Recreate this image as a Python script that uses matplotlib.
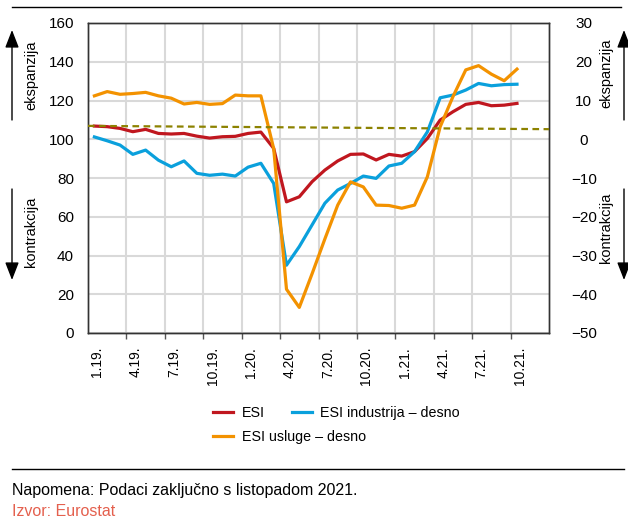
import matplotlib
matplotlib.use("Agg")
import matplotlib.pyplot as plt
from matplotlib.lines import Line2D
import matplotlib.transforms as mtransforms
import numpy as np

plt.rcParams['font.family'] = ['Liberation Sans', 'DejaVu Sans']

# ---- data ----
months = ["1.19.", "2.19.", "3.19.", "4.19.", "5.19.", "6.19.", "7.19.", "8.19.", "9.19.",
          "10.19.", "11.19.", "12.19.", "1.20.", "2.20.", "3.20.", "4.20.", "5.20.", "6.20.",
          "7.20.", "8.20.", "9.20.", "10.20.", "11.20.", "12.20.", "1.21.", "2.21.", "3.21.",
          "4.21.", "5.21.", "6.21.", "7.21.", "8.21.", "9.21.", "10.21."]
axis_months = months + ["11.21.", "12.21."]
tick_labels = ["1.19.", "4.19.", "7.19.", "10.19.", "1.20.", "4.20.", "7.20.", "10.20.",
               "1.21.", "4.21.", "7.21.", "10.21."]

esi = [106.8, 106.5, 105.6, 103.9, 105.1, 103.0, 102.7, 103.0, 101.6, 100.6, 101.3, 101.5,
       103.0, 103.7, 95.3, 67.7, 70.3, 78.1, 84.1, 88.8, 92.2, 92.4, 89.3, 92.2, 91.3, 93.6,
       100.4, 109.9, 114.2, 118.0, 119.0, 117.3, 117.6, 118.5]
esi_industry = [0.6, -0.4, -1.5, -3.9, -2.8, -5.4, -7.1, -5.6, -8.8, -9.3, -9.0, -9.5,
                -7.2, -6.2, -11.4, -32.5, -27.7, -22.1, -16.5, -13.1, -11.4, -9.5, -10.1,
                -6.9, -6.2, -3.2, 1.9, 10.7, 11.4, 12.7, 14.4, 13.8, 14.1, 14.2]
esi_services = [11.2, 12.3, 11.6, 11.8, 12.1, 11.2, 10.6, 9.1, 9.5, 9.0, 9.2, 11.4,
                11.2, 11.2, -2.4, -38.7, -43.4, -34.7, -25.7, -17.0, -11.0, -12.3, -17.0,
                -17.1, -17.8, -17.0, -9.7, 3.2, 11.0, 17.9, 19.0, 16.8, 15.1, 18.1]
trend_x = [-0.5, len(axis_months) - 0.5]
trend_esi = [106.9, 105.2]

# ---- figure ----
W, H = 628, 523
fig = plt.figure(figsize=(W / 100, H / 100), dpi=100)

def fx(px):
    return px / W

def fy(py):
    return 1 - py / H

L, R, T, B = 88, 549, 23, 333
ax = fig.add_axes([fx(L), fy(B), fx(R) - fx(L), fy(T) - fy(B)])
ax2 = ax.twinx()

x = np.arange(len(months))
red = "#c0171f"
blue = "#0aa0dc"
orange = "#f39200"
olive = "#8c8200"

ax.set_xlim(-0.5, len(axis_months) - 0.5)
ax.set_ylim(0, 160)
ax2.set_ylim(-50, 30)

# grid
ax.set_yticks(np.arange(0, 161, 20))
ax2.set_yticks(np.arange(-50, 31, 10))
boundaries = np.arange(2.5, len(axis_months) - 0.5, 3)
ax.set_xticks(boundaries, minor=True)
tick_pos = [months.index(t) for t in tick_labels]
ax.set_xticks(tick_pos)
ax.set_xticklabels(tick_labels, rotation=90, fontsize=10)
ax.tick_params(axis='x', which='major', length=0, pad=10)
ax.tick_params(axis='x', which='minor', length=4, width=1, color="#555555", direction='out')
shift = mtransforms.ScaledTranslation(3 / 100, 0, fig.dpi_scale_trans)
for lab in ax.get_xticklabels():
    lab.set_transform(lab.get_transform() + shift)
ax.grid(True, axis='y', which='major', color="#d9d9d9", linewidth=1.5, zorder=0)
ax.grid(True, axis='x', which='minor', color="#d9d9d9", linewidth=1.5, zorder=0)
ax.set_axisbelow(True)

ax.tick_params(axis='y', length=0, pad=10, labelsize=11)
ax2.tick_params(axis='y', length=0, labelsize=11)
for lab in ax2.get_yticklabels():
    lab.set_horizontalalignment('center')
ax2.tick_params(axis='y', pad=25)

for a in (ax, ax2):
    for s in a.spines.values():
        s.set_color("#333333")
        s.set_linewidth(1.0)

# lines
l_esi, = ax.plot(x, esi, color=red, lw=2.3, solid_joinstyle='round', label="ESI", zorder=3)
l_ind, = ax2.plot(x, esi_industry, color=blue, lw=2.3, solid_joinstyle='round',
                  label="ESI industrija – desno", zorder=3)
l_srv, = ax2.plot(x, esi_services, color=orange, lw=2.3, solid_joinstyle='round',
                  label="ESI usluge – desno", zorder=4)
ax2.plot(trend_x, trend_esi, transform=ax.transData, color=olive, lw=1.6,
         linestyle=(0, (3, 2)), zorder=5, clip_on=False)

leg_kw = dict(frameon=False, loc='upper left', fontsize=10.3, handlelength=1.4,
              handletextpad=0.6, borderpad=0, borderaxespad=0)
leg1 = fig.legend(handles=[l_esi, l_ind], ncol=2, columnspacing=1.9,
                  bbox_to_anchor=(fx(213), fy(406)), **leg_kw)
leg2 = fig.legend(handles=[l_srv], bbox_to_anchor=(fx(213), fy(430)), **leg_kw)

# side labels and arrows
for xpx in (12, 624):
    for y0, y1 in ((120, 30), (189, 280)):
        fig.add_artist(matplotlib.patches.FancyArrowPatch(
            (fx(xpx), fy(y0)), (fx(xpx), fy(y1)), transform=fig.transFigure,
            arrowstyle='-|>,head_width=0.35,head_length=0.9', mutation_scale=12,
            color='black', lw=1.0, shrinkA=0, shrinkB=0))

side_fs = 10.5
fig.text(fx(31), fy(75), "ekspanzija", rotation=90, ha='center', va='center', fontsize=side_fs)
fig.text(fx(31), fy(232), "kontrakcija", rotation=90, ha='center', va='center', fontsize=side_fs)
fig.text(fx(606), fy(73), "ekspanzija", rotation=90, ha='center', va='center', fontsize=side_fs)
fig.text(fx(606), fy(228), "kontrakcija", rotation=90, ha='center', va='center', fontsize=side_fs)

# rules
fig.add_artist(Line2D([fx(12), fx(621)], [fy(7), fy(7)], color='black', lw=1.0))
fig.add_artist(Line2D([fx(12), fx(624)], [fy(469), fy(469)], color='black', lw=1.0))

fig.text(fx(12), fy(490), "Napomena: Podaci zaključno s listopadom 2021.", ha='left', va='center',
         fontsize=11.5)
fig.text(fx(12), fy(511), "Izvor: Eurostat", ha='left', va='center', fontsize=11.5,
         color="#e4604e")

fig.savefig("out.png", dpi=100)
